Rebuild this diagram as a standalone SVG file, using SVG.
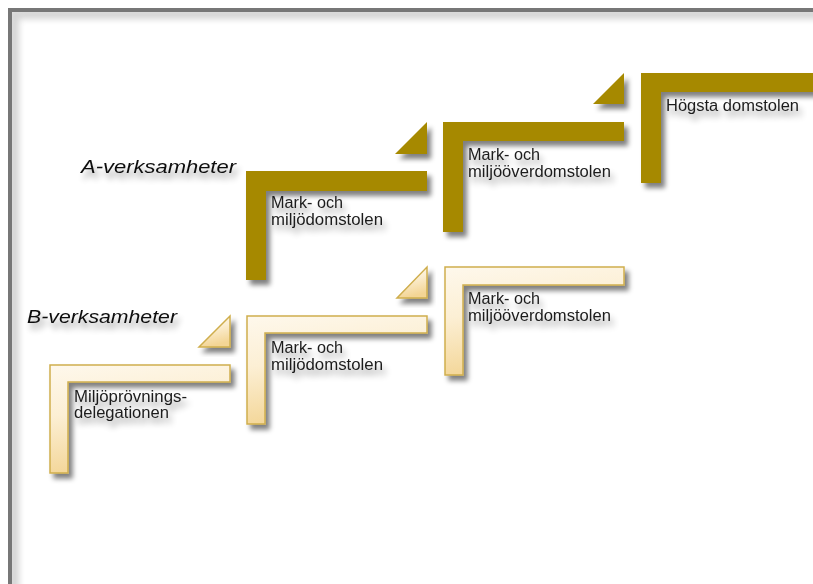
<svg xmlns="http://www.w3.org/2000/svg" width="813" height="584" viewBox="0 0 813 584">
<defs>
<style>
.a{fill:#A68900;}
.b{fill:url(#bg);stroke:#CFAE4E;stroke-width:1.5;stroke-linejoin:miter;}
.lbl{font-family:"Liberation Sans",Arial,sans-serif;font-size:16px;fill:#1c1c1c;}
.ttl{font-family:"Liberation Sans",Arial,sans-serif;font-size:19px;font-style:italic;fill:#111;}
</style>
<linearGradient id="bg" x1="0" y1="0" x2="0.25" y2="1">
<stop offset="0" stop-color="#FEF8EC"/>
<stop offset="0.45" stop-color="#FCEFD4"/>
<stop offset="1" stop-color="#F3D595"/>
</linearGradient>
<filter id="sh" x="-20%" y="-20%" width="150%" height="150%">
<feGaussianBlur in="SourceAlpha" stdDeviation="2.5"/>
<feOffset dx="4" dy="5" result="o"/>
<feComponentTransfer><feFuncA type="linear" slope="0.5"/></feComponentTransfer>
<feMerge><feMergeNode/><feMergeNode in="SourceGraphic"/></feMerge>
</filter>
<filter id="ts" x="-20%" y="-60%" width="140%" height="240%">
<feGaussianBlur in="SourceAlpha" stdDeviation="3"/>
<feOffset dx="3" dy="6" result="o"/>
<feComponentTransfer><feFuncA type="linear" slope="0.4"/></feComponentTransfer>
<feMerge><feMergeNode/><feMergeNode in="SourceGraphic"/></feMerge>
</filter>
<filter id="fb"><feGaussianBlur stdDeviation="3"/></filter>
<clipPath id="inner"><rect x="12" y="12" width="900" height="700"/></clipPath>
</defs>
<rect width="813" height="584" fill="#fff"/>
<g id="frame">
<g clip-path="url(#inner)"><rect x="14" y="14" width="900" height="700" fill="none" stroke="#d4d4d4" stroke-width="10" filter="url(#fb)"/></g>
<rect x="10" y="10" width="900" height="700" fill="none" stroke="#777" stroke-width="4"/>
</g>
<g id="titles" filter="url(#ts)">
<text class="ttl" x="81" y="173" textLength="155" lengthAdjust="spacingAndGlyphs">A-verksamheter</text>
<text class="ttl" x="27" y="323" textLength="150" lengthAdjust="spacingAndGlyphs">B-verksamheter</text>
</g>
<g id="connectors">
<polygon class="a" filter="url(#sh)" points="395,154 427,154 427,122"/>
<polygon class="a" filter="url(#sh)" points="593,104 624,104 624,73"/>
<polygon class="b" filter="url(#sh)" points="199,347 230,347 230,316"/>
<polygon class="b" filter="url(#sh)" points="397,298 427,298 427,267"/>
</g>
<g id="a1">
<polygon class="a" filter="url(#sh)" points="246,171 427,171 427,191 266,191 266,280 246,280"/>
<g filter="url(#ts)"><text class="lbl" x="271" y="208" textLength="72" lengthAdjust="spacingAndGlyphs">Mark- och</text>
<text class="lbl" x="271" y="225" textLength="112" lengthAdjust="spacingAndGlyphs">miljödomstolen</text></g>
</g>
<g id="a2">
<polygon class="a" filter="url(#sh)" points="443,122 624,122 624,141 463,141 463,232 443,232"/>
<g filter="url(#ts)"><text class="lbl" x="468" y="160" textLength="72" lengthAdjust="spacingAndGlyphs">Mark- och</text>
<text class="lbl" x="468" y="177" textLength="143" lengthAdjust="spacingAndGlyphs">miljööverdomstolen</text></g>
</g>
<g id="a3">
<polygon class="a" filter="url(#sh)" points="641,73 830,73 830,92 661,92 661,183 641,183"/>
<g filter="url(#ts)"><text class="lbl" x="666" y="111" textLength="133" lengthAdjust="spacingAndGlyphs">Högsta domstolen</text></g>
</g>
<g id="b1">
<polygon class="b" filter="url(#sh)" points="50,365 230,365 230,382 68,382 68,473 50,473"/>
<g filter="url(#ts)"><text class="lbl" x="74" y="402" textLength="113" lengthAdjust="spacingAndGlyphs">Miljöprövnings-</text>
<text class="lbl" x="74" y="418" textLength="95" lengthAdjust="spacingAndGlyphs">delegationen</text></g>
</g>
<g id="b2">
<polygon class="b" filter="url(#sh)" points="247,316 427,316 427,333 265,333 265,424 247,424"/>
<g filter="url(#ts)"><text class="lbl" x="271" y="353" textLength="72" lengthAdjust="spacingAndGlyphs">Mark- och</text>
<text class="lbl" x="271" y="370" textLength="112" lengthAdjust="spacingAndGlyphs">miljödomstolen</text></g>
</g>
<g id="b3">
<polygon class="b" filter="url(#sh)" points="445,267 624,267 624,285 463,285 463,375 445,375"/>
<g filter="url(#ts)"><text class="lbl" x="468" y="304" textLength="72" lengthAdjust="spacingAndGlyphs">Mark- och</text>
<text class="lbl" x="468" y="321" textLength="143" lengthAdjust="spacingAndGlyphs">miljööverdomstolen</text></g>
</g>
</svg>
